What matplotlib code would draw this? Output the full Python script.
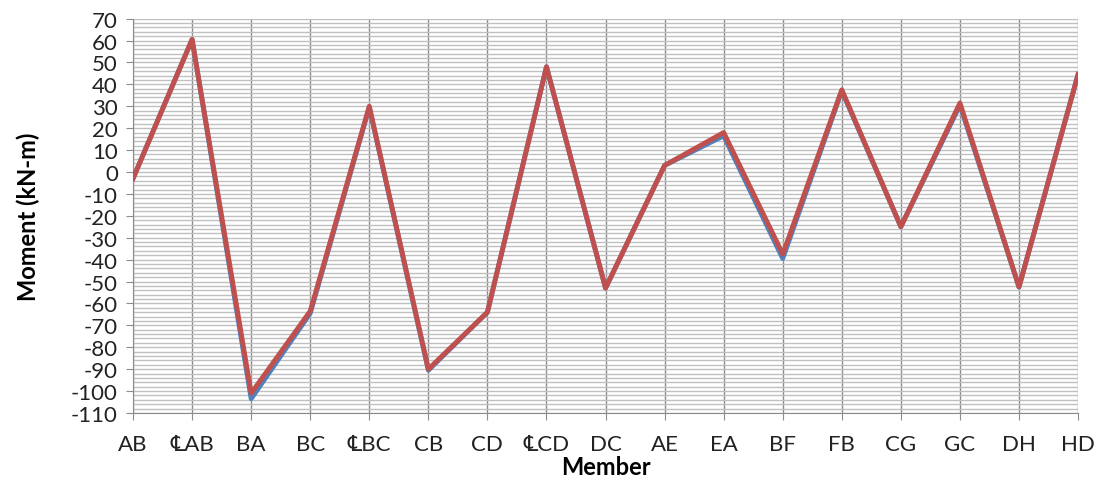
import matplotlib.pyplot as plt
from matplotlib.ticker import MultipleLocator
import numpy as np

members = ['AB', '\u2104AB', 'BA', 'BC', '\u2104BC', 'CB', 'CD', '\u2104CD', 'DC',
           'AE', 'EA', 'BF', 'FB', 'CG', 'GC', 'DH', 'HD']
moment_blue = [-3, 60.5, -103.5, -64.5, 29.5, -90.5, -64, 48, -53,
               3, 16.5, -39.5, 37, -25, 30.5, -52.5, 44.5]
moment_red = [-3, 60.5, -101, -63.5, 30, -90, -64, 48, -53,
              3, 18, -37.5, 37.5, -25, 31.5, -52.5, 44.5]

plt.rcParams['font.family'] = ['Lato', 'DejaVu Sans']
plt.rcParams['axes.unicode_minus'] = False

fig = plt.figure(figsize=(11.04, 4.85), dpi=100)
ax = fig.add_axes([0.1205, 0.1464, 0.856, 0.8132])

x = np.arange(len(members))
ax.plot(x, moment_blue, color='#4F81BD', linewidth=3.5, solid_joinstyle='round', zorder=3)
ax.plot(x, moment_red, color='#C0504D', linewidth=3.5, solid_joinstyle='round', zorder=4)

ax.set_xlim(0, len(members) - 1)
ax.set_ylim(-110, 70)
ax.yaxis.set_major_locator(MultipleLocator(10))
ax.yaxis.set_minor_locator(MultipleLocator(2))
ax.set_xticks(x)
ax.set_xticklabels(members)

ax.grid(axis='y', which='both', color='#C0C0C0', linewidth=1.0)
ax.grid(axis='x', which='major', color='#8C8C8C', linewidth=1.0)
ax.set_axisbelow(True)

for s in ['top', 'right']:
    ax.spines[s].set_visible(False)
for s in ['left', 'bottom']:
    ax.spines[s].set_color('#8C8C8C')
ax.tick_params(axis='both', which='major', colors='#8C8C8C', labelcolor='#222222',
               labelsize=16, length=5, direction='out')
ax.tick_params(axis='y', which='minor', length=0, )
ax.tick_params(axis='y', pad=6)
ax.tick_params(axis='x', pad=10)

ax.set_ylabel('Moment (kN-m)', fontsize=17, fontweight='bold', labelpad=22)
ax.set_xlabel('Member', fontsize=17, fontweight='bold', labelpad=1)

fig.savefig('out.png', dpi=100)
